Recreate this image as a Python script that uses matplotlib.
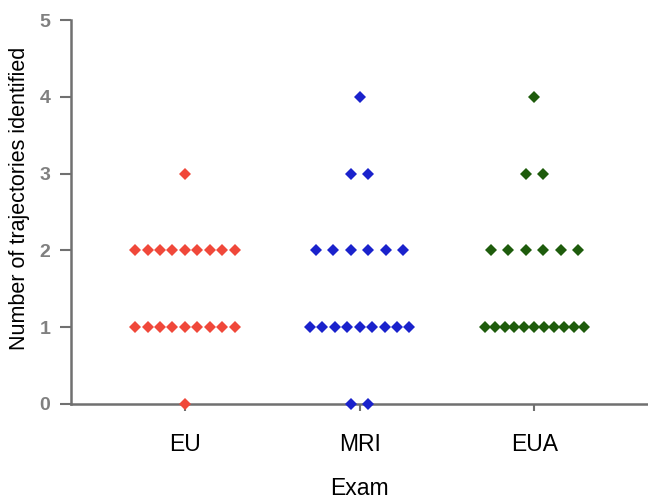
import numpy as np
import matplotlib
matplotlib.use('Agg')
import matplotlib.pyplot as plt

plt.rcParams['font.family'] = ['Liberation Sans', 'DejaVu Sans']

# number of patients at each value (0..4 trajectories identified)
exams = ['EU', 'MRI', 'EUA']
levels = [0, 1, 2, 3, 4]
eu_counts = [1, 9, 9, 1, 0]
mri_counts = [2, 9, 6, 2, 1]
eua_counts = [0, 11, 6, 2, 1]
colors = ['#f0483a', '#1a22cc', '#1e5c0c']

fig = plt.figure(figsize=(6.48, 5.03), dpi=100)
ax = fig.add_axes([0.110, 0.197, 0.89, 0.763])

# column scatter layout: points spread around the category centre
max_width = 0.57   # data units, full spread of a wide row
max_step = 0.10

for i, counts in enumerate([eu_counts, mri_counts, eua_counts]):
	xs, ys = [], []
	for lvl, n in zip(levels, counts):
		if n == 0:
			continue
		step = max_step if n == 1 else min(max_step, max_width / (n - 1))
		offs = (np.arange(n) - (n - 1) / 2.0) * step
		xs.extend(i + 1 + offs)
		ys.extend([lvl] * n)
	ax.plot(xs, ys, linestyle='none', marker='D', markersize=6.4,
			color=colors[i], markeredgewidth=0, clip_on=False, zorder=3)

ax.set_xlim(0.35, 3.65)
ax.set_ylim(0, 5)
ax.set_xticks([1, 2, 3])
ax.set_xticklabels(exams, fontsize=16.5)
ax.set_yticks(levels + [5])
ax.set_yticklabels([str(v) for v in levels + [5]], fontsize=14, color='#808080', fontweight='bold')

for s in ['top', 'right']:
	ax.spines[s].set_visible(False)
for s in ['left', 'bottom']:
	ax.spines[s].set_color('#707070')
	ax.spines[s].set_linewidth(1.8)
ax.tick_params(axis='y', direction='out', length=8, width=1.5, color='#707070', pad=7)
ax.tick_params(axis='x', direction='out', length=5, width=1.5, color='#707070', pad=16)

ax.set_ylabel('Number of trajectories identified', fontsize=15.5)
ax.yaxis.set_label_coords(-0.072, 0.535)
ax.set_xlabel('Exam', fontsize=16.5)
ax.xaxis.set_label_coords(0.5, -0.19)

plt.savefig('out.png', dpi=100)
plt.close('all')
